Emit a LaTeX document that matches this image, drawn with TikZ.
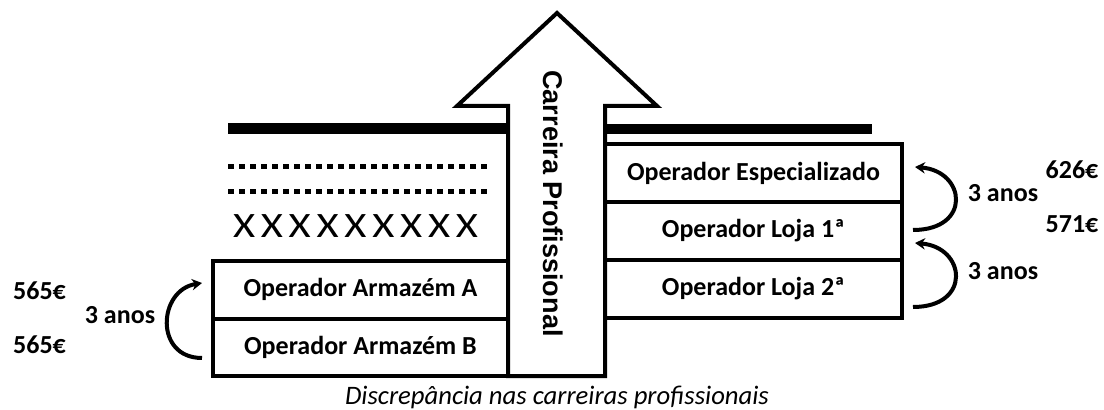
\documentclass[tikz,border=0pt]{standalone}
\usepackage{fontspec}
\usepackage{graphicx}
\setmainfont{Carlito}
\newfontfamily\arialf{Liberation Sans}
\usetikzlibrary{arrows.meta}
\newcommand\crossx{\makebox[20.9pt]{\scalebox{1.19}[1]{X}}}
\begin{document}
\begin{tikzpicture}[x=0.75pt,y=-0.75pt,
  lbl/.style={font=\fontsize{19.5}{23}\selectfont\bfseries, inner sep=0pt},
  boxl/.style={draw, line width=3pt, minimum width=221.25pt, minimum height=43.125pt, inner sep=0pt, outer sep=0pt, font=\fontsize{19.5}{23}\selectfont\bfseries},
  boxr/.style={draw, line width=3pt, minimum width=222.75pt, minimum height=43.5pt, inner sep=0pt, outer sep=0pt, font=\fontsize{19.5}{23}\selectfont\bfseries},
  curv/.style={line width=3pt, -{Stealth[length=7.5pt,width=8.5pt]}},
  heavy/.style={line width=8pt},
  dots/.style={line width=3.75pt, dash pattern=on 4.5pt off 3.75pt},
]
\useasboundingbox (0,0) rectangle (1104,410);

% big arrow
\coordinate (s1) at (508,376);
\coordinate (s2) at (508,106);
\coordinate (h1) at (457,106);
\coordinate (tip) at (557,13);
\coordinate (h2) at (657,106);
\coordinate (s3) at (605,106);
\coordinate (s4) at (605,376);
\draw[line width=3pt, line join=miter] (s1) -- (s2) -- (h1) -- (tip) -- (h2) -- (s3) -- (s4) -- cycle;
\node[rotate=-90, inner sep=0pt, font=\arialf\bfseries\fontsize{20.3}{24}\selectfont] (career) at (553,203.5) {Carreira Profissional};

% left side marks
\coordinate (tl1) at (228,128.5);
\coordinate (tl2) at (508,128.5);
\draw[heavy] (tl1) -- (tl2);
\coordinate (d1a) at (228,166);
\coordinate (d1b) at (492,166);
\draw[dots] (d1a) -- (d1b);
\coordinate (d2a) at (228,191);
\coordinate (d2b) at (492,191);
\draw[dots] (d2a) -- (d2b);
\node[inner sep=0pt, font=\fontsize{26.8}{30}\selectfont] (crosses) at (355.5,226) {\crossx\crossx\crossx\crossx\crossx\crossx\crossx\crossx\crossx};

% right thick line
\coordinate (tr1) at (605,129);
\coordinate (tr2) at (872,129);
\draw[heavy] (tr1) -- (tr2);

% left boxes
\node[boxl] (A) at (360.5,289.75) {Operador Armazém A};
\node[boxl] (B) at (360.5,347.25) {Operador Armazém B};

% right boxes
\node[boxr] (E) at (753.5,173) {Operador Especializado};
\node[boxr] (L1) at (753.5,231) {Operador Loja 1ª};
\node[boxr] (L2) at (753.5,289) {Operador Loja 2ª};

% left curved arrow
\coordinate (la0) at (202,358);
\coordinate (la1) at (202,283);
\draw[curv] (la0) .. controls (154,358) and (158,290) .. (la1);
\node[lbl] (yl) at (120,315.5) {3 anos};
\node[lbl] (pa) at (39.5,290.5) {565€};
\node[lbl] (pb) at (39.5,345) {565€};

% right curved arrows
\coordinate (ra0) at (913,230);
\coordinate (ra1) at (915,167);
\draw[curv] (ra0) .. controls (972,230) and (966,171) .. (ra1);
\coordinate (rb0) at (913,307);
\coordinate (rb1) at (915,243);
\draw[curv] (rb0) .. controls (972,307) and (966,247) .. (rb1);
\node[lbl] (yr1) at (1003,193) {3 anos};
\node[lbl] (yr2) at (1003,271) {3 anos};
\node[lbl] (pe) at (1072,170) {626€};
\node[lbl] (p1) at (1072,224) {571€};

% caption
\node[inner sep=0pt, font=\fontsize{20}{24}\selectfont\itshape] (cap) at (557,397) {Discrepância nas carreiras profissionais};
\end{tikzpicture}
\end{document}
